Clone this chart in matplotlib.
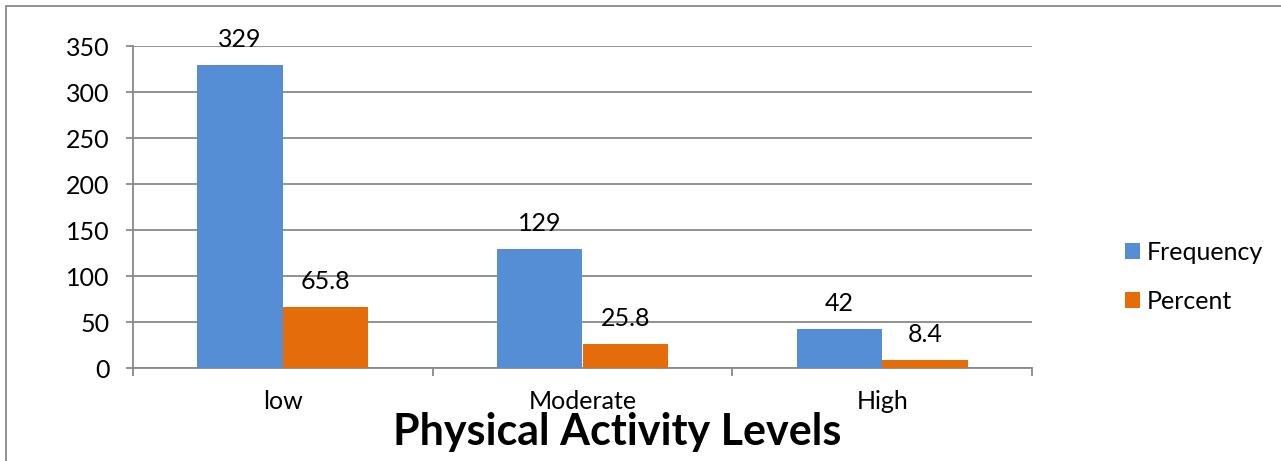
import matplotlib
matplotlib.use("Agg")
import matplotlib.pyplot as plt
from matplotlib.patches import Rectangle
from matplotlib.ticker import FixedLocator
import numpy as np

categories = ["low", "Moderate", "High"]
frequency = [329, 129, 42]
percent = [65.8, 25.8, 8.4]
series_names = ["Frequency", "Percent"]
y_ticks = [0, 50, 100, 150, 200, 250, 300, 350]
title = "Physical Activity Levels"

BLUE = "#558ED5"
ORANGE = "#E46C0A"
GRID = "#898989"

plt.rcParams["font.family"] = ["Lato", "DejaVu Sans"]

W, H, DPI = 1281, 461, 100
fig = plt.figure(figsize=(W / DPI, H / DPI), dpi=DPI)
fig.patch.set_facecolor("white")

# outer chart border (left and top edges visible)
fig.patches.append(Rectangle((5.5 / W, -0.1), 1.2, 1 - 6 / H + 0.1,
                             transform=fig.transFigure, fill=False,
                             edgecolor=GRID, linewidth=1.3))

ax = fig.add_axes([133 / W, 1 - 368 / H, (1032 - 133) / W, (368 - 46) / H])

x = np.arange(len(categories))
bw = 0.285
b1 = ax.bar(x - bw / 2, frequency, bw, color=BLUE, label=series_names[0], zorder=3)
b2 = ax.bar(x + bw / 2, percent, bw, color=ORANGE, label=series_names[1], zorder=3)

fs = 18
for bars, vals in ((b1, frequency), (b2, percent)):
    for rect, v in zip(bars, vals):
        ax.annotate(f"{v:g}", (rect.get_x() + rect.get_width() / 2, rect.get_height()),
                    xytext=(0, 13), textcoords="offset points",
                    ha="center", va="baseline", fontsize=fs, color="black", zorder=5)

ax.set_xlim(-0.5, len(categories) - 0.5)
ax.set_ylim(0, 350)
ax.set_yticks(y_ticks)
ax.set_yticklabels([str(t) for t in y_ticks])
ax.yaxis.grid(True, color=GRID, linewidth=1.3, zorder=0)
ax.set_axisbelow(True)

ax.set_xticks(x)
ax.set_xticklabels(categories)
ax.xaxis.set_minor_locator(FixedLocator(np.arange(-0.5, len(categories), 1.0)))
ax.tick_params(axis="x", which="major", length=0, pad=16, labelsize=fs)
ax.tick_params(axis="x", which="minor", length=6, width=1.3, color=GRID, direction="out")
ax.tick_params(axis="y", length=5, width=1.3, color=GRID, pad=12, labelsize=fs)

for s in ("top", "right"):
    ax.spines[s].set_visible(False)
for s in ("left", "bottom"):
    ax.spines[s].set_color(GRID)
    ax.spines[s].set_linewidth(1.3)

leg = fig.legend(handles=[b1, b2], labels=series_names, loc="center left",
                 bbox_to_anchor=(1102 / W, 1 - 277 / H), frameon=False,
                 fontsize=fs, handlelength=0.6, handleheight=0.6,
                 handletextpad=0.3, labelspacing=1.05)

fig.text(617 / W, 1 - 445 / H, title, ha="center", va="baseline",
         fontsize=31, fontweight="bold", color="black")

fig.savefig("out.png", dpi=DPI, facecolor="white")
